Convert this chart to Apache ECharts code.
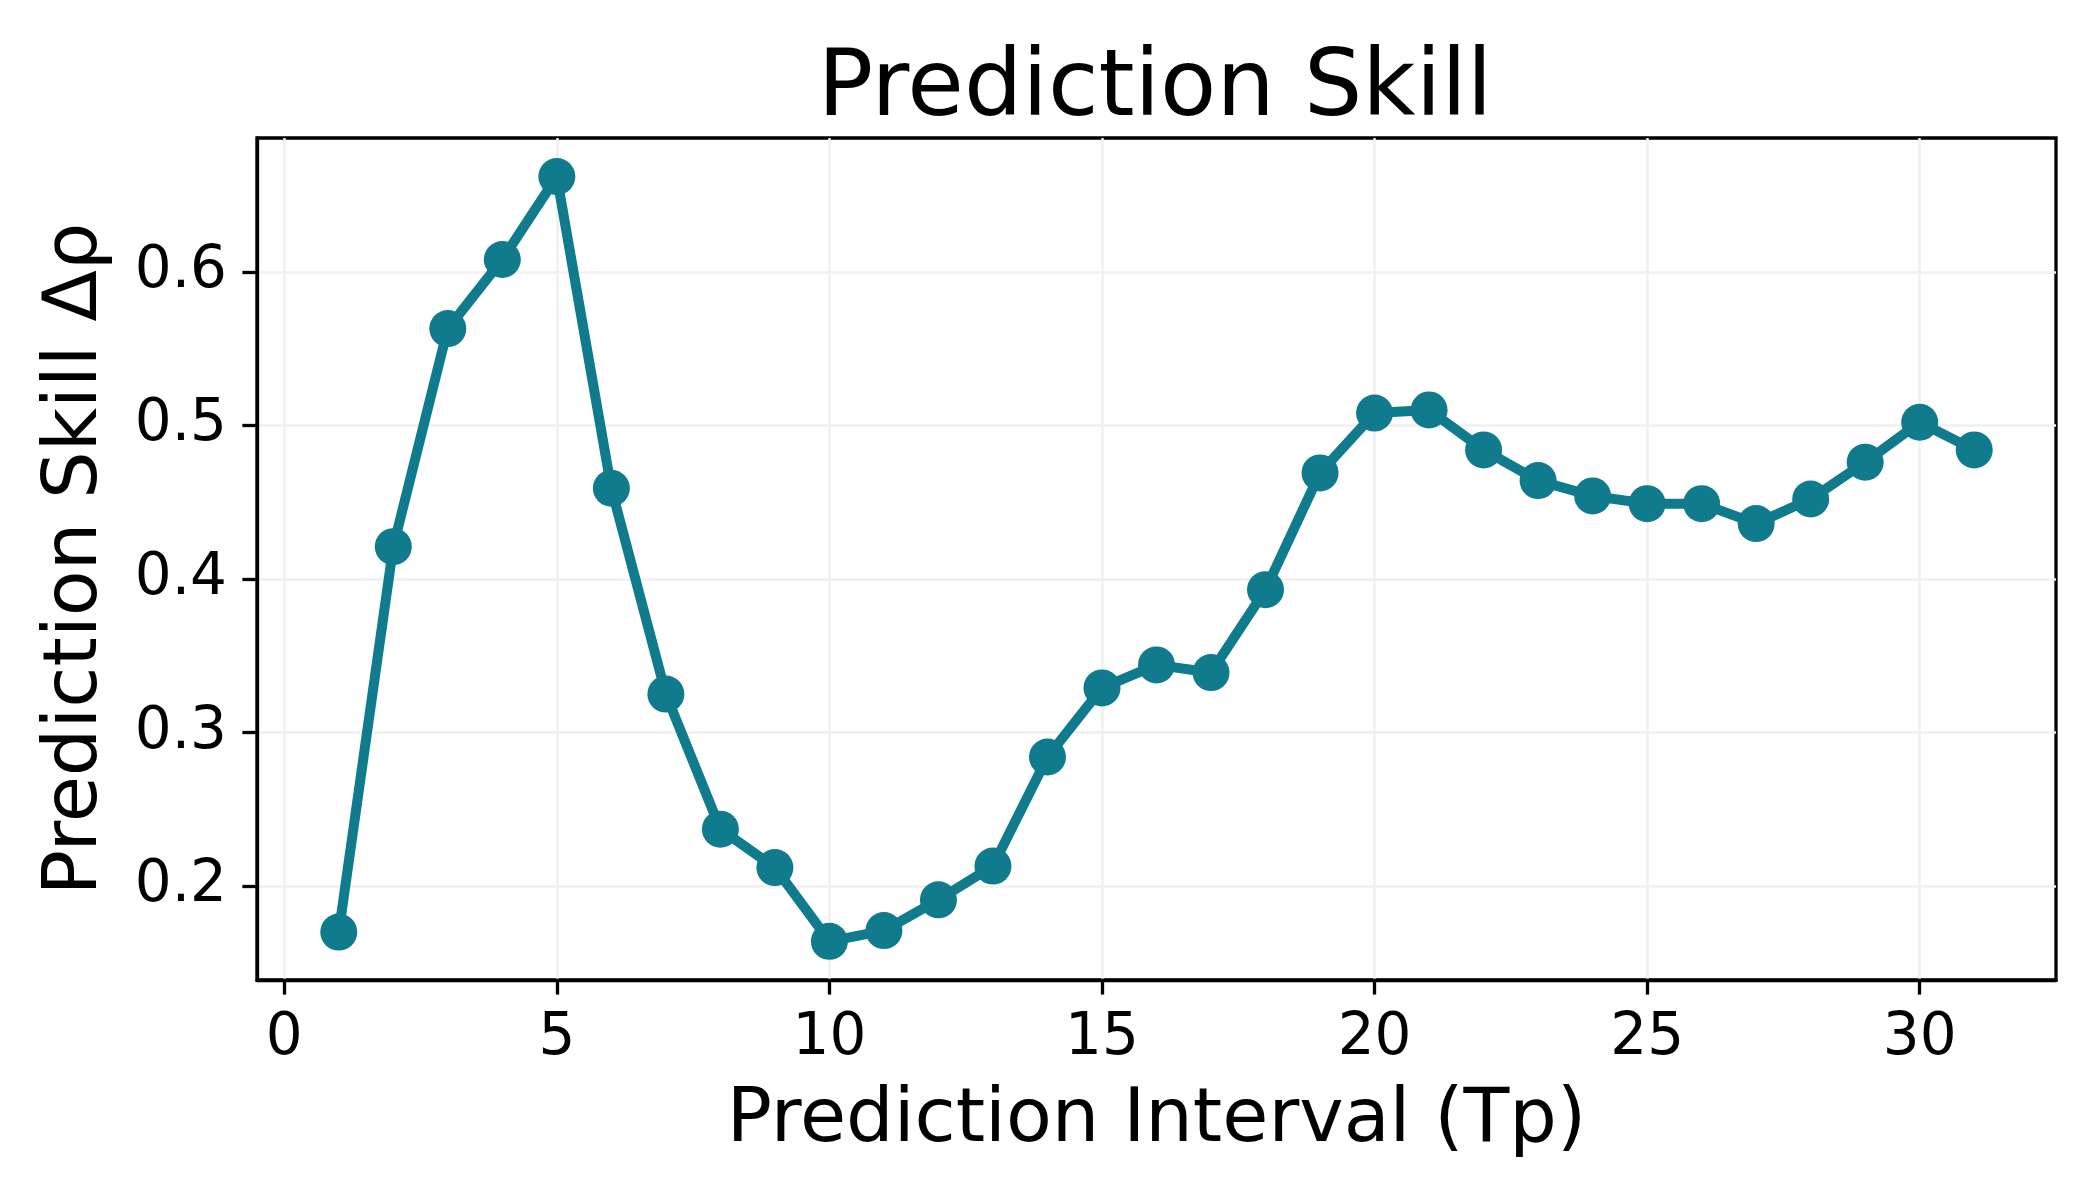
<!DOCTYPE html>
<html>
<head>
<meta charset="utf-8">
<script src="https://cdn.jsdelivr.net/npm/echarts@6/dist/echarts.min.js"></script>
<style>
html,body{margin:0;padding:0;background:#fff;}
#chart{width:2100px;height:1200px;}
</style>
</head>
<body>
<div id="chart"></div>
<script>
const intervals = [1,2,3,4,5,6,7,8,9,10,11,12,13,14,15,16,17,18,19,20,21,22,23,24,25,26,27,28,29,30,31];
const skill = [0.170,0.421,0.563,0.608,0.662,0.459,0.325,0.237,0.212,0.164,0.171,0.191,0.213,0.284,0.329,0.344,0.339,0.393,0.469,0.508,0.510,0.484,0.464,0.454,0.449,0.449,0.436,0.452,0.476,0.502,0.484];
const xTicks = [0,5,10,15,20,25,30];
const yTicks = [0.2,0.3,0.4,0.5,0.6];

const FONT = 'DejaVu Sans';
const COLOR = '#0f7b8c';

const chart = echarts.init(document.getElementById('chart'), null, {renderer:'canvas'});
const gridLine = {show:true, lineStyle:{color:'#f0f0f0', width:2.5}};
chart.setOption({
  animation:false,
  backgroundColor:'#fff',
  title:{
    text:'Prediction Skill',
    left:1150, top:40, textAlign:'center',
    textStyle:{fontFamily:FONT, fontSize:92, fontWeight:'normal', color:'#000'}
  },
  grid:{left:257, right:44, top:138, bottom:220, show:true, borderColor:'#000', borderWidth:3.3, backgroundColor:'transparent'},
  xAxis:{
    type:'value', min:-0.5, max:32.5,
    name:'Prediction Interval (Tp)', nameLocation:'middle', nameGap:104,
    nameTextStyle:{fontFamily:FONT, fontSize:75, color:'#000'},
    axisLine:{show:true, onZero:false, lineStyle:{color:'#000', width:3.3}},
    axisTick:{show:true, length:14.6, lineStyle:{color:'#000', width:3.3}, customValues:xTicks},
    axisLabel:{fontFamily:FONT, fontSize:58, color:'#000', margin:30, customValues:xTicks},
    splitLine:Object.assign({customValues:xTicks}, gridLine)
  },
  yAxis:{
    type:'value', min:0.1388, max:0.6871,
    name:'Prediction Skill Δρ', nameLocation:'middle', nameGap:143,
    nameTextStyle:{fontFamily:FONT, fontSize:75, color:'#000'},
    axisLine:{show:true, onZero:false, lineStyle:{color:'#000', width:3.3}},
    axisTick:{show:true, length:14.6, lineStyle:{color:'#000', width:3.3}, customValues:yTicks},
    axisLabel:{fontFamily:FONT, fontSize:58, color:'#000', margin:30, customValues:yTicks, formatter:v=>v.toFixed(1)},
    splitLine:Object.assign({customValues:yTicks}, gridLine)
  },
  series:[{
    type:'line',
    data:intervals.map((x,i)=>[x, skill[i]]),
    symbol:'circle', symbolSize:37,
    showAllSymbol:true,
    lineStyle:{color:COLOR, width:10},
    itemStyle:{color:COLOR},
    z:3
  }]
});
</script>
</body>
</html>
